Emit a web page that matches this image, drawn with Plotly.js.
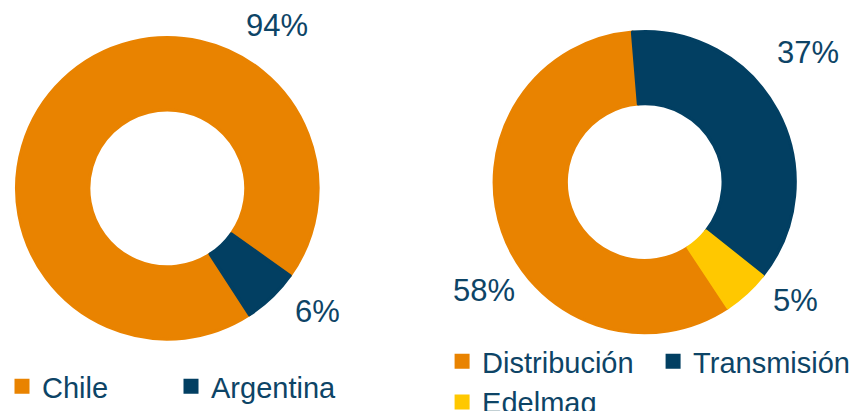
<!DOCTYPE html>
<html>
<head>
<meta charset="utf-8">
<script src="https://cdn.plot.ly/plotly-3.0.1.min.js"></script>
<style>html,body{margin:0;padding:0;background:#fff;}#chart{width:864px;height:411px;}</style>
</head>
<body>
<div id="chart"></div>
<script>
// Data
const paisLabels = ['Chile', 'Argentina'];
const paisValues = [94, 6];
const negocioLabels = ['Distribución', 'Transmisión', 'Edelmag'];
const negocioValues = [58, 37, 5];

// Styles
const ORANGE = '#E98300';
const NAVY = '#023F62';
const YELLOW = '#FFC800';
const TEXT = '#0D4466';
const FONT = 'Arial, "Liberation Sans", sans-serif';

const paisColors = [ORANGE, NAVY];
const negocioColors = [ORANGE, NAVY, YELLOW];

// label positions (pixels) for the percentage labels
const paisLabelPos = [[277, 25], [317, 311]];
const negocioLabelPos = [[484, 290], [808, 53], [795, 300]];

const W = 864, H = 411;
function px(p) { return { x: p[0] / W, y: 1 - p[1] / H }; }

const traces = [
  {
    type: 'pie', labels: paisLabels, values: paisValues, hole: 0.52, sort: false,
    direction: 'clockwise', rotation: 147, textinfo: 'none', hoverinfo: 'none',
    marker: { colors: paisColors, line: { width: 3, color: paisColors } },
    domain: { x: [16.5 / W, 318.1 / W], y: [1 - 339.2 / H, 1 - 37.5 / H] },
    legend: 'legend'
  },
  {
    type: 'pie', labels: negocioLabels, values: negocioValues, hole: 0.52, sort: false,
    direction: 'clockwise', rotation: 146.5, textinfo: 'none', hoverinfo: 'none',
    marker: { colors: negocioColors, line: { width: 3, color: negocioColors } },
    domain: { x: [494.1 / W, 795.3 / W], y: [1 - 332.8 / H, 1 - 31.5 / H] },
    legend: 'legend2'
  }
];

const annotations = [];
paisValues.forEach((v, i) => {
  const p = px(paisLabelPos[i]);
  annotations.push({ x: p.x, y: p.y, xref: 'paper', yref: 'paper', text: v + '%', showarrow: false,
    xanchor: 'center', yanchor: 'middle', font: { family: FONT, size: 31, color: TEXT } });
});
negocioValues.forEach((v, i) => {
  const p = px(negocioLabelPos[i]);
  annotations.push({ x: p.x, y: p.y, xref: 'paper', yref: 'paper', text: v + '%', showarrow: false,
    xanchor: 'center', yanchor: 'middle', font: { family: FONT, size: 31, color: TEXT } });
});

const layout = {
  width: W, height: H,
  margin: { l: 0, r: 0, t: 0, b: 0, autoexpand: false },
  paper_bgcolor: '#fff', plot_bgcolor: '#fff',
  font: { family: FONT, color: TEXT },
  showlegend: true,
  legend: {
    orientation: 'h', x: 2 / W, xanchor: 'left', y: 1 - 361 / H, yanchor: 'top',
    entrywidth: 124, entrywidthmode: 'pixels',
    font: { family: FONT, size: 29, color: TEXT }, bgcolor: 'rgba(0,0,0,0)'
  },
  legend2: {
    orientation: 'h', x: 1.0001, xanchor: 'right', y: 1 - 336 / H, yanchor: 'top',
    entrywidth: 166, entrywidthmode: 'pixels',
    font: { family: FONT, size: 29, color: TEXT }, bgcolor: 'rgba(0,0,0,0)'
  },
  annotations: annotations
};

Plotly.newPlot('chart', traces, layout, { displayModeBar: false, staticPlot: true });
</script>
</body>
</html>
